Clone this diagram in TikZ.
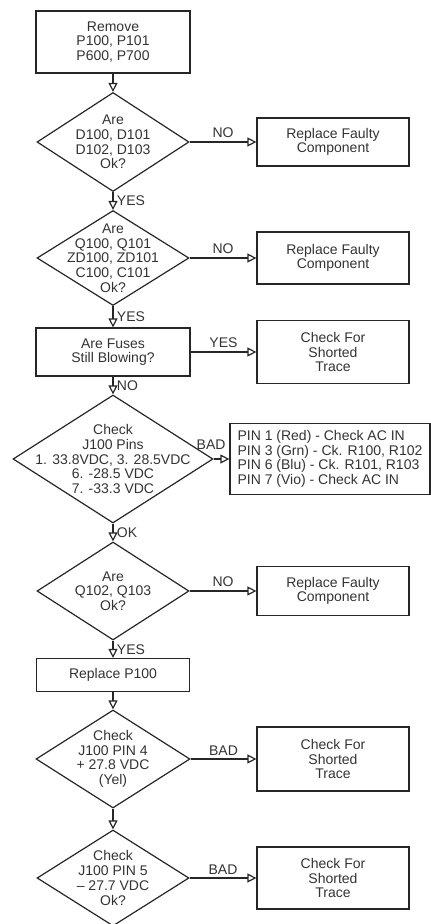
\documentclass[tikz,border=0pt]{standalone}
\usepackage{fontspec}
\setmainfont{Liberation Sans}
\usetikzlibrary{positioning, shapes.geometric, arrows.meta}
\newcommand{\flowfont}{\fontsize{14pt}{14.7pt}\selectfont}

\begin{document}
\begin{tikzpicture}[-{Triangle[open, length=9pt, width=9pt]}, line width=1.2pt, color=black!85, text=black!80, font=\flowfont,
	stepbox/.style={rectangle, draw, minimum width=154pt, minimum height=48pt, align=center},
	resultbox/.style={rectangle, draw, minimum width=152pt, minimum height=48pt, align=center},
	decision/.style={diamond, draw, minimum width=152pt, minimum height=98pt, inner sep=0pt},
	every label/.style={align=center}]
	\useasboundingbox (0,0) rectangle (431pt,-924pt);
	% main column
	\node[stepbox, minimum height=62pt] (remove) at (113pt,-42pt) {Remove\\P100, P101\\P600, P700};
	\node[decision, minimum height=99pt, label={center:Are\\D100, D101\\D102, D103\\Ok?}] (diodes) [below of=remove, node distance=100pt] {};
	\node[decision, minimum height=95pt, label={center:Are\\Q100, Q101\\ZD100, ZD101\\C100, C101\\Ok?}] (transistors) [below of=diodes, node distance=116pt] {};
	\node[stepbox] (fuses) [below of=transistors, node distance=94pt] {Are Fuses\\Still Blowing?};
	\node[decision, minimum width=200pt, minimum height=128pt, label={center:Check\\J100 Pins\\1. 33.8VDC, 3. 28.5VDC\\6. -28.5 VDC\\7. -33.3 VDC}] (pins) [below of=fuses, node distance=107pt] {};
	\node[decision, label={center:Are\\Q102, Q103\\Ok?}] (qcheck) [below of=pins, node distance=132pt] {};
	\node[stepbox, minimum width=153pt, minimum height=33pt] (replace) [below of=qcheck, node distance=84pt] {Replace P100};
	\node[decision, minimum width=154pt, label={center:Check\\J100 PIN 4\\+ 27.8 VDC\\(Yel)}] (pinfour) [below of=replace, node distance=84pt] {};
	\node[decision, minimum height=96pt, label={center:Check\\J100 PIN 5\\– 27.7 VDC\\Ok?}] (pinfive) [below of=pinfour, node distance=119pt] {};
	% right column
	\node[resultbox] (faulta) [right of=diodes, node distance=220pt] {Replace Faulty\\Component};
	\node[resultbox, minimum height=52pt] (faultb) [right of=transistors, node distance=220pt] {Replace Faulty\\Component};
	\node[resultbox, minimum height=63pt] (shorta) [right of=fuses, node distance=220pt] {Check For\\Shorted\\Trace};
	\node[rectangle, draw, minimum width=200pt, minimum height=71pt, align=left] (pinlist) [right of=pins, node distance=217pt] {PIN 1 (Red) - Check AC IN\\PIN 3 (Grn) - Ck. R100, R102\\PIN 6 (Blu) - Ck. R101, R103\\PIN 7 (Vio) - Check AC IN};
	\node[resultbox, minimum height=49pt] (faultc) [right of=qcheck, node distance=220pt] {Replace Faulty\\Component};
	\node[resultbox, minimum height=64pt] (shortb) [right of=pinfour, node distance=220pt] {Check For\\Shorted\\Trace};
	\node[resultbox, minimum height=62pt] (shortc) [right of=pinfive, node distance=220pt] {Check For\\Shorted\\Trace};
	% connectors
	\path (remove) edge (diodes);
	\path (diodes) edge node[right] {YES} (transistors);
	\path (transistors) edge node[right] {YES} (fuses);
	\path (fuses) edge node[right] {NO} (pins);
	\path (pins) edge node[right] {OK} (qcheck);
	\path (qcheck) edge node[right] {YES} (replace);
	\path (replace) edge (pinfour);
	\path (pinfour) edge (pinfive);
	\path (diodes) edge node[above] {NO} (faulta);
	\path (transistors) edge node[above] {NO} (faultb);
	\path (fuses) edge node[above] {YES} (shorta);
	\path (pins) edge node[pos=1, above left, yshift=6pt] {BAD} (pinlist);
	\path (qcheck) edge node[above] {NO} (faultc);
	\path (pinfour) edge node[above] {BAD} (shortb);
	\path (pinfive) edge node[above] {BAD} (shortc);
\end{tikzpicture}
\end{document}
